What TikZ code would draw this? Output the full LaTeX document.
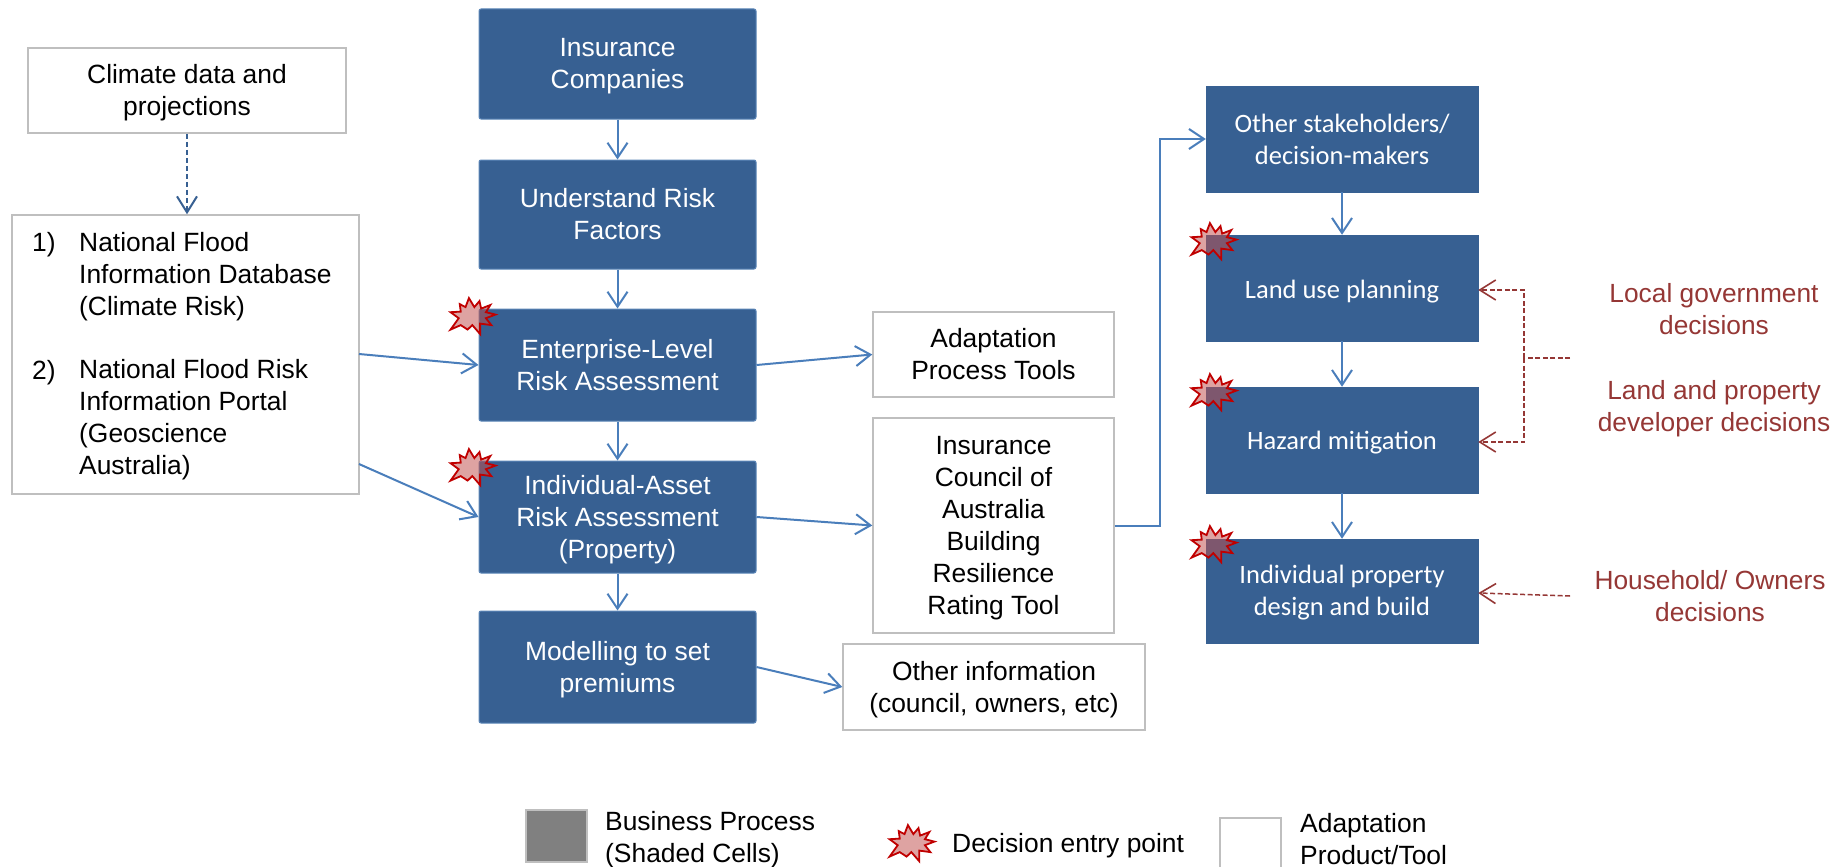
\documentclass[tikz,border=0pt]{standalone}
\usepackage{fontspec}
\setmainfont{Liberation Sans}
\newfontfamily\carlito{Carlito}
\usetikzlibrary{arrows.meta}
\definecolor{boxblue}{HTML}{376092}
\definecolor{boxedge}{HTML}{5B86B8}
\definecolor{arrowblue}{HTML}{4A7EBB}
\definecolor{darkred}{HTML}{953735}
\definecolor{burstfill}{HTML}{C0504D}
\definecolor{burstedge}{HTML}{C00000}
\definecolor{greyedge}{HTML}{BFBFBF}
\newcommand{\fsize}{\fontsize{26.4pt}{32pt}\selectfont}
\newcommand{\csize}{\fontsize{26.5pt}{32pt}\selectfont\carlito}
\newcommand{\dn}[1]{\rule{0pt}{#1pt}}
\tikzset{
  bluebox/.style={draw=boxedge,line width=1pt,fill=boxblue,text=white,rounded corners=2pt,align=center,inner sep=0pt,font=\fsize},
  bluesq/.style={draw=boxblue,line width=0.5pt,fill=boxblue,text=white,align=center,inner sep=0pt,font=\csize},
  whitebox/.style={draw=greyedge,line width=1.5pt,fill=white,text=black,align=center,inner sep=0pt,font=\fsize},
  plain/.style={inner sep=0pt,align=left,anchor=west,font=\fsize},
  redtext/.style={inner sep=0pt,align=center,text=darkred,font=\fontsize{26.3pt}{32pt}\selectfont},
  flow/.style={draw=arrowblue,line width=2pt,-{Straight Barb[length=15pt,width=20pt,line width=2pt]}},
  flowdash/.style={draw=boxblue,line width=2pt,dash pattern=on 5pt off 3pt,-{Straight Barb[length=16pt,width=20pt,line width=2pt]}},
  reddash/.style={draw=darkred,line width=1.5pt,dash pattern=on 5pt off 2.5pt},
  redarrow/.style={reddash,-{Straight Barb[length=16pt,width=20pt,line width=1.6pt]}},
  burst/.style={draw=burstedge,line width=1.8pt,fill=burstfill,fill opacity=0.52,draw opacity=1,line join=miter,miter limit=4},
}
\newcommand{\burstat}[2]{%
  \begin{scope}[shift={(#1,#2)},x=0.34pt,y=-0.3pt]
    \path[burst] (-66,42) -- (-36,27) -- (-16,42) -- (-2,27) -- (21,57) -- (21,22) -- (54,27) -- (38,4) -- (66,-8) -- (38,-16) -- (51,-40) -- (24,-28) -- (19,-53) -- (4,-33) -- (-12,-63) -- (-22,-33) -- (-39,-43) -- (-36,-18) -- (-66,-16) -- (-42,4) -- cycle;
  \end{scope}}
\begin{document}
\begin{tikzpicture}[x=1pt,y=-1pt]
\useasboundingbox (0,0) rectangle (1845,867);
\fill[white] (0,0) rectangle (1845,867);
% left
\node[whitebox,minimum width=318pt,minimum height=85pt] (climate) at (187,90.5) {\dn{24}Climate data and\\projections};
\node[whitebox,minimum width=347pt,minimum height=279pt] (nat) at (185.5,354.5) {};
\node[plain] (n1) at (32,245) {1)};
\node[plain] (n1t) at (79,277) {National Flood\\Information Database\\(Climate Risk)};
\node[plain] (n2) at (32,372.5) {2)};
\node[plain] (n2t) at (79,420) {National Flood Risk\\Information Portal\\(Geoscience\\Australia)};
% centre
\node[bluebox,minimum width=277pt,minimum height=110pt] (ins) at (617.5,64) {\dn{23}Insurance\\Companies};
\node[bluebox,minimum width=277pt,minimum height=109pt] (und) at (617.5,214.5) {Understand Risk\\Factors};
\node[bluebox,minimum width=277pt,minimum height=112pt] (ent) at (617.5,365) {Enterprise-Level\\Risk Assessment};
\node[bluebox,minimum width=277pt,minimum height=112pt] (ind) at (617.5,517) {\dn{25}Individual-Asset\\Risk Assessment\\(Property)};
\node[bluebox,minimum width=277pt,minimum height=112pt] (mod) at (617.5,667) {\dn{25}Modelling to set\\premiums};
\node[whitebox,minimum width=241pt,minimum height=85pt] (apt) at (993.5,354.5) {Adaptation\\Process Tools};
\node[whitebox,minimum width=241pt,minimum height=215pt] (icr) at (993.5,525.5) {\dn{24}Insurance\\Council of\\Australia\\Building\\Resilience\\Rating Tool};
\node[whitebox,minimum width=302pt,minimum height=86pt] (oth) at (994,687) {\dn{23.5}Other information\\(council, owners, etc)};
% right
\node[bluesq,minimum width=272pt,minimum height=106pt] (sta) at (1342,139) {Other stakeholders/\\decision-makers};
\node[bluesq,minimum width=272pt,minimum height=106pt] (lan) at (1342,288) {\dn{26}Land use planning};
\node[bluesq,minimum width=272pt,minimum height=106pt] (haz) at (1342,440) {\dn{24}Hazard mitigation};
\node[bluesq,minimum width=272pt,minimum height=104pt] (pro) at (1342,591) {\dn{22.5}Individual property\\design and build};
% red labels
\node[redtext] (lg) at (1714,309) {Local government\\decisions};
\node[redtext] (lp) at (1714,408.5) {Land and property\\developer decisions};
\node[redtext] (ho) at (1710,596) {Household/ Owners\\decisions};
% connectors
\draw[flowdash] (climate.south) -- (nat.north -| climate.south);
\draw[flow] (ins) -- (und);
\draw[flow] (und) -- (ent);
\draw[flow] (ent) -- (ind);
\draw[flow] (ind) -- (mod);
\coordinate (na) at (359,354);
\coordinate (nb) at (359,464);
\draw[flow] (na) -- (ent.west);
\draw[flow] (nb) -- (ind.west);
\draw[flow] (ent.east) -- (apt.west);
\draw[flow] (ind.east) -- (icr.west);
\draw[flow] (mod.east) -- (oth.west);
\draw[flow] (icr.east) -- (1160,525.5) -- (1160,139) -- (sta.west);
\draw[flow] (sta) -- (lan);
\draw[flow] (lan) -- (haz);
\draw[flow] (haz) -- (pro);
\coordinate (redmid) at (1570,358);
\coordinate (redbot) at (1570,596);
\coordinate (redspine) at (1524,358);
\draw[reddash] (redmid) -- (redspine);
\draw[redarrow] (redspine) |- ([yshift=-2pt]lan.east);
\draw[redarrow] (redspine) |- ([yshift=-2pt]haz.east);
\draw[redarrow] (redbot) -- ([yshift=-2pt]pro.east);
% bursts
\burstat{473}{317}
\burstat{473}{468}
\burstat{1214}{242}
\burstat{1214}{393}
\burstat{1214}{545}
% legend
\node[draw=greyedge,line width=1.5pt,fill=gray,minimum width=61pt,minimum height=52pt,inner sep=0pt] (lgrey) at (556.5,836) {};
\node[plain] (ltxt1) at (605,840) {Business Process\\(Shaded Cells)};
\burstat{912}{844}
\node[plain] (ltxt2) at (952,846) {Decision entry point};
\node[draw=greyedge,line width=1.5pt,fill=white,minimum width=61pt,minimum height=60pt,inner sep=0pt] (lwhite) at (1250.5,848) {};
\node[plain] (ltxt3) at (1300,839) {Adaptation\\Product/Tool};
\end{tikzpicture}
\end{document}
